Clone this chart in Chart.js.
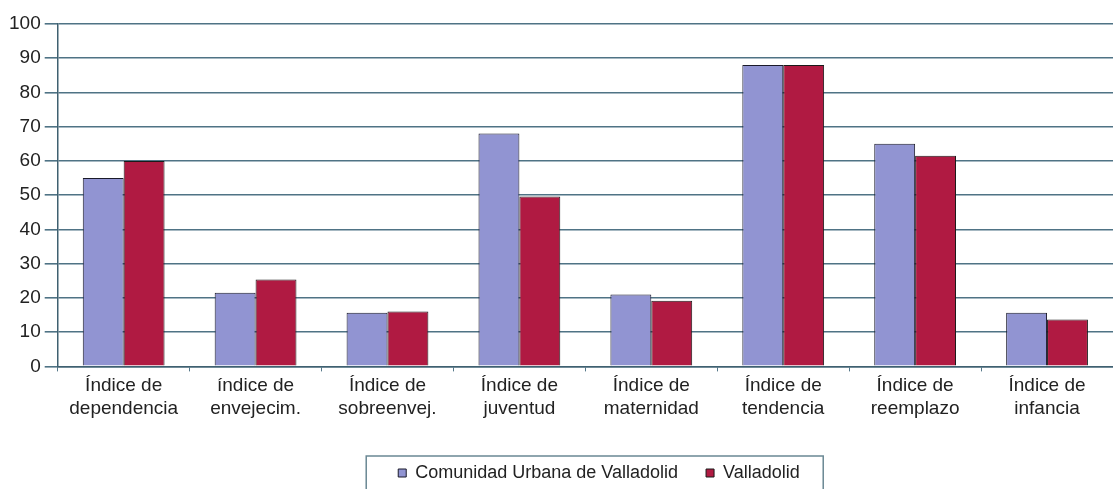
<!DOCTYPE html>
<html>
<head>
<meta charset="utf-8">
<script src="https://cdn.jsdelivr.net/npm/chart.js@4/dist/chart.umd.min.js"></script>
<style>
  html, body { margin: 0; padding: 0; background: #fff; }
  #wrap { width: 1113px; height: 489px; }
</style>
</head>
<body>
<div id="wrap"><canvas id="grafico"></canvas></div>
<script>
const categorias = [
  ['Índice de', 'dependencia'],
  ['índice de', 'envejecim.'],
  ['Índice de', 'sobreenvej.'],
  ['Índice de', 'juventud'],
  ['Índice de', 'maternidad'],
  ['Índice de', 'tendencia'],
  ['Índice de', 'reemplazo'],
  ['Índice de', 'infancia']
];
const comunidadUrbana = [55, 21.5, 15.7, 68, 21, 88, 65, 15.7];
const valladolid = [60, 25.4, 16, 49.6, 19.2, 88, 61.5, 13.7];
const nombresSeries = ['Comunidad Urbana de Valladolid', 'Valladolid'];

// mueve la leyenda y dibuja su caja
const cajaLeyenda = {
  id: 'cajaLeyenda',
  afterLayout(chart) {
    const l = chart.legend;
    l.left += 40;
    l.right += 40;
    const alto = l.bottom - l.top;
    l.top = 436;
    l.bottom = l.top + alto;
  },
  afterDraw(chart) {
    const l = chart.legend;
    const pad = l.options.labels.padding;
    const inicio = (l.left + pad + l.right - l.lineWidths[0]) / 2;
    const ctx = chart.ctx;
    ctx.save();
    ctx.strokeStyle = '#6a8894';
    ctx.lineWidth = 1.5;
    ctx.strokeRect(inicio - 32, l.top + 20, 457, 45);
    ctx.restore();
  }
};

const ctx = document.getElementById('grafico').getContext('2d');
new Chart(ctx, {
  type: 'bar',
  data: {
    labels: categorias,
    datasets: [{
      label: nombresSeries[0],
      data: comunidadUrbana,
      backgroundColor: '#9194d2',
      borderColor: '#1a1a2a',
      borderWidth: 1,
      categoryPercentage: 0.62,
      barPercentage: 1.0
    }, {
      label: nombresSeries[1],
      data: valladolid,
      backgroundColor: '#b01a42',
      borderColor: '#1a1a1a',
      borderWidth: 1,
      categoryPercentage: 0.62,
      barPercentage: 1.0
    }]
  },
  options: {
    responsive: true,
    maintainAspectRatio: false,
    animation: false,
    layout: { padding: { top: 24, right: 0, left: 5, bottom: 0 } },
    plugins: {
      tooltip: { enabled: false },
      legend: {
        position: 'bottom',
        labels: {
          color: '#222',
          font: { family: 'Liberation Sans', size: 18 },
          boxWidth: 8,
          boxHeight: 8,
          padding: 28
        }
      }
    },
    scales: {
      y: {
        min: 0,
        max: 100,
        ticks: {
          stepSize: 10,
          color: '#222',
          font: { family: 'Liberation Sans', size: 19 },
          padding: 4
        },
        grid: { color: '#4f7385', lineWidth: 1.6, tickLength: 13 },
        border: { color: '#3f6070', width: 1.5 }
      },
      x: {
        offset: true,
        afterFit(scale) { scale.height += 10; },
        ticks: {
          color: '#222',
          font: { family: 'Liberation Sans', size: 19 },
          padding: 3,
          maxRotation: 0
        },
        grid: { offset: true, drawOnChartArea: false, color: '#55788a', tickLength: 5 },
        border: { color: '#3f6070', width: 1.5 }
      }
    }
  },
  plugins: [cajaLeyenda]
});
</script>
</body>
</html>
